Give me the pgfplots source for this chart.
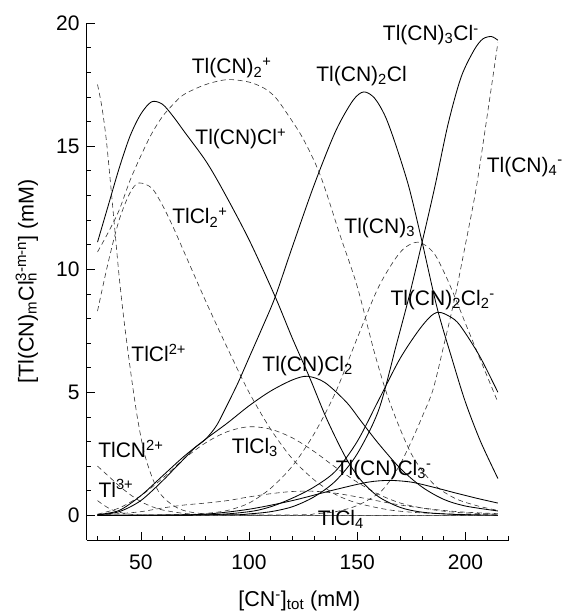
\documentclass[border=0pt]{standalone}
\usepackage{fontspec}
\setmainfont{Liberation Sans}
\usepackage{pgfplots}
\pgfplotsset{compat=1.18}
\newcommand{\sub}[1]{\textsubscript{#1}}
\newcommand{\spp}[1]{\textsuperscript{#1}}
\newcommand{\subsup}[2]{\rlap{\textsubscript{#1}}\textsuperscript{#2}}
\tikzset{
  sl/.style={black, line width=0.85pt, smooth, tension=0.5},
  dl/.style={black!80, line width=0.6pt, dash pattern=on 5pt off 3.5pt, smooth, tension=0.5},
  lab/.style={font=\fontsize{21}{25}\selectfont, inner sep=0pt}
}
\begin{document}
\fontsize{21}{25}\selectfont
\begin{tikzpicture}
\begin{axis}[
  scale only axis, width=422pt, height=517pt,
  xmin=25, xmax=220, ymin=-1, ymax=20,
  axis x line*=bottom, axis y line*=left,
  axis line style={line width=0.7pt},
  xtick={50,100,150,200}, minor xtick={30,40,...,220},
  ytick={0,5,...,20}, minor ytick={1,2,...,19},
  tick align=inside, major tick length=8pt, minor tick length=4.5pt,
  every tick/.style={black, line width=0.6pt},
  tick label style={font=\fontsize{21}{25}\selectfont},
  xticklabel style={yshift=-8pt},
  /pgf/number format/assume math mode=true,
  xlabel={[CN\spp{-}]\sub{tot} (mM)},
  ylabel={[Tl(CN)\sub{m}Cl\subsup{n}{3-m-n}] (mM)},
  xlabel style={at={(axis description cs:0.504,0)}, anchor=center, yshift=-61pt, font=\fontsize{21.5}{25}\selectfont},
  ylabel style={at={(axis description cs:-0.142,0.5)}, anchor=center, font=\fontsize{21.5}{25}\selectfont},
  clip=false, no markers,
]
\coordinate (O) at (rel axis cs:0,0);
% Tl3+
\addplot[dl] coordinates {(30,0.6)(32,0.47)(35,0.3)(38,0.18)(42,0.09)(46,0.04)(50,0.02)(60,0.004)(80,0)(120,0)(170,0)(215,0)};
% TlCN2+
\addplot[dl] coordinates {(30,2.0)(35,1.6)(40,1.2)(45,0.85)(50,0.56)(55,0.36)(60,0.22)(70,0.08)(80,0.03)(100,0.005)(150,0)(215,0)};
% TlCl2+
\addplot[dl] coordinates {(30,17.5)(32,16.6)(34,15.3)(36,13.5)(38,11.6)(40,9.7)(42,8.1)(44,6.7)(46,5.4)(48,4.2)(50,3.2)(52,2.4)(55,1.6)(58,1.0)(62,0.6)(67,0.3)(72,0.15)(80,0.06)(95,0.01)(130,0)(215,0)};
% TlCl2^+
\addplot[dl] coordinates {(30,8.3)(35,10.3)(40,12.0)(45,13.1)(49,13.5)(55,13.3)(60,12.6)(65,11.7)(70,10.7)(80,8.7)(90,6.8)(100,5.0)(110,3.5)(120,2.3)(130,1.45)(140,0.85)(150,0.5)(165,0.22)(180,0.1)(200,0.04)(215,0.02)};
% TlCl3
\addplot[dl] coordinates {(30,0.05)(40,0.3)(50,0.8)(60,1.5)(70,2.3)(80,2.95)(90,3.4)(100,3.6)(110,3.5)(120,3.15)(130,2.6)(140,1.95)(150,1.35)(160,0.85)(170,0.5)(180,0.3)(190,0.17)(200,0.1)(215,0.05)};
% TlCl4-
\addplot[dl] coordinates {(30,0.02)(40,0.07)(50,0.15)(60,0.3)(70,0.42)(80,0.5)(90,0.6)(100,0.75)(110,0.88)(120,0.97)(130,0.98)(140,0.9)(150,0.75)(160,0.58)(170,0.42)(180,0.3)(190,0.2)(200,0.13)(215,0.07)};
% Tl(CN)2+
\addplot[dl] coordinates {(30,10.7)(35,11.5)(40,12.4)(45,13.6)(50,14.6)(55,15.5)(60,16.2)(65,16.7)(70,17.1)(80,17.5)(90,17.7)(100,17.6)(107,17.35)(112,17.0)(117,16.4)(125,15.3)(133,13.8)(142,11.4)(150,9.3)(158,6.6)(165,4.6)(175,2.5)(185,1.3)(195,0.7)(205,0.4)(215,0.2)};
% Tl(CN)3
\addplot[dl] coordinates {(30,0)(70,0.03)(80,0.08)(90,0.2)(100,0.5)(110,1.1)(120,2.0)(130,3.3)(140,5.0)(150,7.2)(160,9.3)(170,10.7)(178,11.1)(185,10.7)(190,9.9)(195,8.9)(200,7.8)(207,6.3)(215,4.6)};
% Tl(CN)4-
\addplot[dl] coordinates {(30,0)(120,0.02)(130,0.06)(140,0.15)(150,0.4)(160,0.9)(165,1.4)(170,2.1)(175,3.0)(180,4.0)(185,5.1)(190,6.9)(195,8.8)(200,11.0)(205,13.3)(210,16.2)(215,19.2)};
% Tl(CN)Cl+
\addplot[sl] coordinates {(30,11.1)(35,12.6)(40,14.1)(45,15.4)(50,16.3)(55,16.8)(60,16.7)(65,16.2)(70,15.6)(80,14.4)(88,13.2)(100,11.2)(112,8.9)(120,7.2)(128,5.6)(136,3.9)(145,2.3)(152,1.4)(160,0.75)(170,0.32)(180,0.13)(195,0.04)(215,0.01)};
% Tl(CN)Cl2
\addplot[sl] coordinates {(30,0.03)(40,0.2)(50,0.8)(60,1.6)(70,2.4)(80,3.1)(90,3.75)(100,4.45)(110,5.05)(120,5.5)(127,5.65)(135,5.4)(145,4.6)(152,3.8)(160,2.9)(170,1.9)(180,1.15)(190,0.65)(200,0.38)(215,0.18)};
% Tl(CN)Cl3-
\addplot[sl] coordinates {(30,0)(60,0.01)(80,0.05)(100,0.25)(120,0.6)(140,1.05)(155,1.35)(165,1.42)(175,1.35)(185,1.15)(195,0.92)(205,0.7)(215,0.5)};
% Tl(CN)2Cl
\addplot[sl] coordinates {(30,0.02)(40,0.15)(50,0.6)(60,1.4)(65,1.85)(70,2.3)(75,2.75)(80,3.1)(85,3.65)(90,4.5)(95,5.4)(100,6.4)(106,7.6)(112,8.85)(120,10.9)(130,13.4)(140,15.6)(148,16.85)(153,17.2)(158,16.95)(163,16.2)(168,15.0)(174,13.3)(180,11.1)(187,8.4)(194,6.3)(200,4.6)(207,3.0)(215,1.5)};
% Tl(CN)2Cl2-
\addplot[sl] coordinates {(30,0)(80,0.02)(100,0.15)(110,0.35)(120,0.7)(130,1.15)(140,1.8)(150,3.0)(160,4.7)(170,6.4)(180,7.7)(187,8.25)(195,7.95)(200,7.4)(207,6.4)(215,5.0)};
% Tl(CN)3Cl-
\addplot[sl] coordinates {(30,0)(90,0.02)(100,0.06)(110,0.15)(120,0.35)(130,0.75)(140,1.4)(150,2.5)(160,4.3)(168,6.9)(174,8.9)(180,11.1)(186,13.4)(192,15.9)(198,17.8)(204,18.9)(208,19.35)(212,19.45)(215,19.3)};
% labels
\node[lab] at (axis cs:92,18.17) {Tl(CN)\sub{2}\spp{+}};
\node[lab] at (axis cs:96.2,15.3) {Tl(CN)Cl\spp{+}};
\node[lab] at (axis cs:77.3,12.1) {TlCl\sub{2}\spp{+}};
\node[lab] at (axis cs:58.3,6.6) {TlCl\spp{2+}};
\node[lab] at (axis cs:45.4,2.7) {TlCN\spp{2+}};
\node[lab] at (axis cs:38.5,1.1) {Tl\spp{3+}};
\node[lab] at (axis cs:102.7,2.75) {TlCl\sub{3}};
\node[lab] at (axis cs:152,17.85) {Tl(CN)\sub{2}Cl};
\node[lab] at (axis cs:184,19.5) {Tl(CN)\sub{3}Cl\spp{-}};
\node[lab] at (axis cs:227.4,14.15) {Tl(CN)\sub{4}\spp{-}};
\node[lab] at (axis cs:160.4,11.67) {Tl(CN)\sub{3}};
\node[lab] at (axis cs:189.5,8.74) {Tl(CN)\sub{2}Cl\sub{2}\spp{-}};
\node[lab] at (axis cs:127.1,6.05) {Tl(CN)Cl\sub{2}};
\node[lab] at (axis cs:162.2,1.83) {Tl(CN)Cl\sub{3}\spp{-}};
\node[lab] at (axis cs:142.4,-0.16) {TlCl\sub{4}};
\end{axis}
\pgfresetboundingbox
\path (O) ++(-86.7pt,-73pt) rectangle ++(564pt,613pt);
\end{tikzpicture}
\end{document}
